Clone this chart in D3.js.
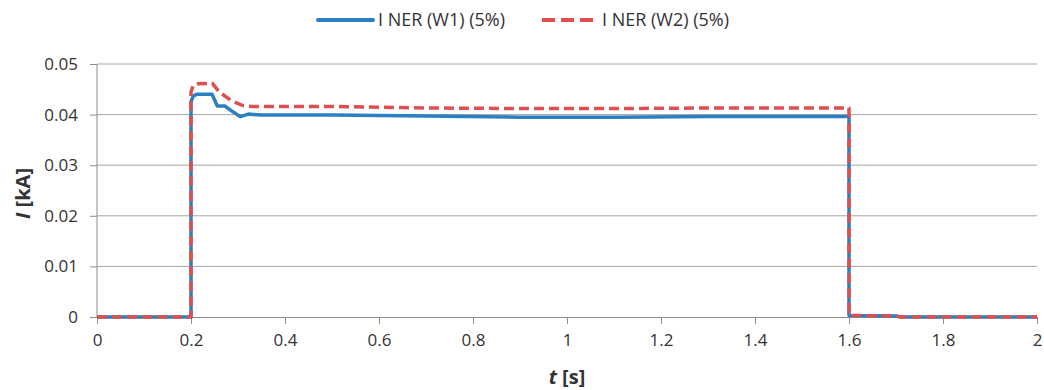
<!DOCTYPE html>
<html>
<head>
<meta charset="utf-8">
<script src="https://cdn.jsdelivr.net/npm/d3@7"></script>
<style>
  body { margin: 0; background: #fff; }
  svg text { font-family: "Open Sans", "Noto Sans", sans-serif; fill: #333; }
</style>
</head>
<body>
<div id="chart"></div>
<script>
// Series data: time (s) and current (kA)
var tW1 = [0, 0.2, 0.2, 0.205, 0.212, 0.245, 0.256, 0.272, 0.29, 0.305, 0.322, 0.35, 0.5, 0.7, 0.9, 1.1, 1.3, 1.5, 1.6, 1.6, 1.7, 1.71, 2];
var iW1 = [0, 0, 0.0425, 0.0437, 0.044, 0.044, 0.0417, 0.0417, 0.0405, 0.0396, 0.0401, 0.0399, 0.0399, 0.0397, 0.0395, 0.0395, 0.0396, 0.0396, 0.0396, 0.0003, 0.0002, 0, 0];

var tW2 = [0, 0.2, 0.2, 0.205, 0.215, 0.245, 0.26, 0.285, 0.31, 0.33, 0.5, 0.7, 0.9, 1.1, 1.3, 1.5, 1.6, 1.6, 1.7, 1.71, 2];
var iW2 = [0, 0, 0.0445, 0.0458, 0.0461, 0.0462, 0.0445, 0.0428, 0.0418, 0.0416, 0.0416, 0.0413, 0.0412, 0.0412, 0.0413, 0.0413, 0.0413, 0.0003, 0.0002, 0, 0];

var seriesNames = ["I NER (W1) (5%)", "I NER (W2) (5%)"];
var xTicks = [0, 0.2, 0.4, 0.6, 0.8, 1, 1.2, 1.4, 1.6, 1.8, 2];
var yTicks = [0, 0.01, 0.02, 0.03, 0.04, 0.05];

var svgWidth = 1044;
var svgHeight = 390;
var margin = { top: 64, right: 7, bottom: 73, left: 97 };
var width = svgWidth - margin.left - margin.right;
var height = svgHeight - margin.top - margin.bottom;

var blue = "#2b7fc3";
var red = "#de5050";
var textColor = "#3a3a3a";

var svg = d3.select("#chart").append("svg")
  .attr("width", svgWidth)
  .attr("height", svgHeight);

var chartGroup = svg.append("g")
  .attr("transform", `translate(${margin.left}, ${margin.top})`);

var x = d3.scaleLinear().domain([0, 2]).range([0, width]);
var y = d3.scaleLinear().domain([0, 0.05]).range([height, 0]);

// gridlines
chartGroup.selectAll(".grid")
  .data(yTicks.slice(1))
  .enter()
  .append("line")
  .attr("x1", 0)
  .attr("x2", width)
  .attr("y1", d => y(d))
  .attr("y2", d => y(d))
  .attr("stroke", "#a6a6a6")
  .attr("stroke-width", 1);

// axes
var leftAxis = d3.axisLeft(y).tickValues(yTicks).tickSize(7).tickPadding(12)
  .tickFormat(d => d === 0 ? "0" : d3.format(".2f")(d));
var bottomAxis = d3.axisBottom(x).tickValues(xTicks).tickSize(7).tickPadding(10)
  .tickFormat(d => d3.format("")(+d.toFixed(1)));

var yAxis = chartGroup.append("g").call(leftAxis);
var xAxis = chartGroup.append("g")
  .attr("transform", `translate(0, ${height})`)
  .call(bottomAxis);

[xAxis, yAxis].forEach(function(ax) {
  ax.select(".domain").attr("stroke", "#8c8c8c");
  ax.selectAll(".tick line").attr("stroke", "#8c8c8c");
  ax.selectAll(".tick text")
    .attr("font-size", "17px")
    .attr("fill", textColor)
    .style("font-family", "'Open Sans', 'Noto Sans', sans-serif");
});
yAxis.select(".domain").remove();
yAxis.append("line").attr("y1", 0).attr("y2", height).attr("stroke", "#8c8c8c");

// lines
var line = d3.line()
  .x(d => x(d[0]))
  .y(d => y(d[1]));

var w1 = tW1.map((t, i) => [t, iW1[i]]);
var w2 = tW2.map((t, i) => [t, iW2[i]]);

chartGroup.append("path")
  .datum(w1)
  .attr("d", line)
  .attr("fill", "none")
  .attr("stroke", blue)
  .attr("stroke-width", 3.5)
  .attr("stroke-linejoin", "round");

chartGroup.append("path")
  .datum(w2)
  .attr("d", line)
  .attr("fill", "none")
  .attr("stroke", red)
  .attr("stroke-width", 3.5)
  .attr("stroke-dasharray", "10,5")
  .attr("stroke-linejoin", "round");

// axis titles
svg.append("text")
  .attr("x", margin.left + width / 2)
  .attr("y", 384)
  .attr("text-anchor", "middle")
  .attr("font-size", "20px")
  .attr("font-weight", "bold")
  .attr("fill", textColor)
  .html('<tspan font-style="italic">t</tspan> [s]');

svg.append("text")
  .attr("transform", `translate(30, ${margin.top + height / 2 + 3}) rotate(-90)`)
  .attr("text-anchor", "middle")
  .attr("font-size", "20px")
  .attr("font-weight", "bold")
  .attr("fill", textColor)
  .html('<tspan font-style="italic">I</tspan> [kA]');

// legend
var legend = svg.append("g");
var leg1 = legend.append("g").attr("transform", "translate(318, 20)");
leg1.append("line").attr("x1", 0).attr("x2", 55).attr("stroke", blue).attr("stroke-width", 4).attr("stroke-linecap", "round");
leg1.append("text").attr("x", 60).attr("dy", "0.35em").attr("font-size", "18px").attr("fill", textColor).text(seriesNames[0]);

var leg2 = legend.append("g").attr("transform", "translate(542, 20)");
leg2.append("line").attr("x1", 0).attr("x2", 51).attr("stroke", red).attr("stroke-width", 4)
  .attr("stroke-dasharray", "13,6");
leg2.append("text").attr("x", 60).attr("dy", "0.35em").attr("font-size", "18px").attr("fill", textColor).text(seriesNames[1]);
</script>
</body>
</html>
